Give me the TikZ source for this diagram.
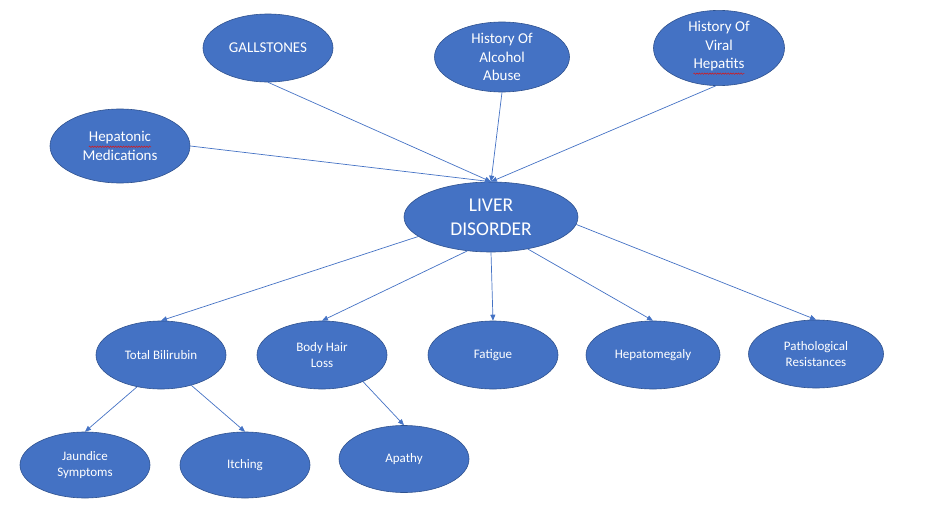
\documentclass[tikz,border=0pt]{standalone}
\usepackage{fontspec}
\setmainfont{Carlito}
\usepackage{tikz}
\usetikzlibrary{shapes.geometric, arrows.meta, decorations.pathmorphing}
\usepackage{xcolor}
\definecolor{bubbleBlue}{RGB}{68, 114, 196}
\definecolor{rimBlue}{RGB}{47, 82, 143}
\definecolor{lineBlue}{RGB}{68, 114, 196}
\definecolor{spellRed}{RGB}{220, 20, 20}
\newcommand{\spellwave}[1]{\tikz[baseline=(w.base)]{\node[shape=rectangle, draw=none, fill=none, minimum width=0pt, minimum height=0pt, inner sep=0pt, outer sep=0pt] (w) {#1};
  \draw[spellRed, line width=0.5pt, decorate, decoration={snake, amplitude=0.7pt, segment length=2.6pt}] ([yshift=-2.5pt]w.south west) -- ([yshift=-2.5pt]w.south east);}}

\begin{document}
\begin{tikzpicture}[
    x=1pt, y=-1pt,
    bubble/.style={ellipse, draw=rimBlue, fill=bubbleBlue, line width=0.6pt, text=white, align=center, inner sep=0pt, minimum width=130pt, minimum height=68pt, font=\fontsize{13}{16}\selectfont},
    bigbubble/.style={bubble, minimum width=174pt, minimum height=70pt, font=\fontsize{19.5}{24}\selectfont},
    causebubble/.style={bubble, font=\fontsize{15}{18.5}\selectfont},
    arrow/.style={-{Triangle[length=6pt, width=5pt]}, draw=lineBlue, line width=0.7pt}
]
\useasboundingbox (0,0) rectangle (943,530);

% Causes (top)
\node[causebubble] (gall) at (268,48) {GALLSTONES};
\node[causebubble, minimum width=135pt, minimum height=70pt] (alcohol) at (502,57) {History Of\\Alcohol\\Abuse};
\node[causebubble, minimum width=131pt, minimum height=73pt] (viral) at (719,48) {History Of\\Viral\\\spellwave{Hepatits}};
\node[causebubble, minimum width=140pt, minimum height=74pt] (meds) at (120,146) {\spellwave{Hepatonic}\\Medications};

% Disorder
\node[bigbubble] (liver) at (491,217) {LIVER\\DISORDER};

% Symptoms
\node[bubble] (bili) at (161,355) {Total Bilirubin};
\node[bubble] (hair) at (322,355) {Body Hair\\Loss};
\node[bubble] (fatigue) at (493,355) {Fatigue};
\node[bubble, minimum width=134pt] (hepato) at (653,355) {Hepatomegaly};
\node[bubble, minimum width=135pt] (patho) at (816,354) {Pathological\\Resistances};

% Second level
\node[bubble, minimum height=66pt] (jaundice) at (85,465) {Jaundice\\Symptoms};
\node[bubble, minimum height=66pt] (itch) at (245,465) {Itching};
\node[bubble, minimum height=67pt] (apathy) at (404,459) {Apathy};

% Arrows - causes
\draw[arrow] (gall.south) -- (liver.north);
\draw[arrow] (alcohol.south) -- (liver.north);
\draw[arrow] (viral.265) -- (liver.north);
\draw[arrow] (meds.east) -- (liver.north);

% Arrows - symptoms
\draw[arrow] (liver.195) -- (bili.north);
\draw[arrow] (liver.235) -- (hair.north);
\draw[arrow] (liver.south) -- (fatigue.north);
\draw[arrow] (liver.319) -- (hepato.north);
\draw[arrow] (liver.355) -- (patho.north);

% Arrows - second level
\draw[arrow] (bili.233) -- (jaundice.north);
\draw[arrow] (bili.315) -- (itch.north);
\draw[arrow] (hair.327) -- (apathy.north);

\end{tikzpicture}
\end{document}
